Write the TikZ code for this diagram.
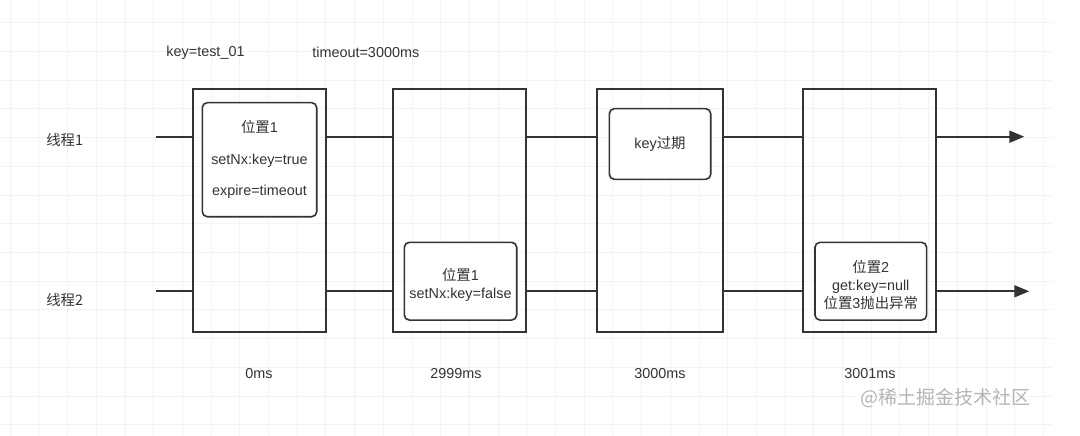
\documentclass[tikz,border=0pt]{standalone}
\usepackage{fontspec}
\setmainfont{Liberation Sans}
\newfontfamily\cjk{Noto Sans CJK SC}
\usetikzlibrary{arrows.meta}
\definecolor{ink}{HTML}{333333}
\definecolor{gridc}{HTML}{F3F3F3}
\definecolor{wm}{HTML}{B4B4B4}
\begin{document}
\begin{tikzpicture}[x=1pt,y=-1pt,
  every node/.style={text=ink,font=\fontsize{14.4}{17.5}\selectfont},
  bigbox/.style={draw=ink,line width=1.8pt,minimum height=243pt,inner sep=0pt},
  inbox/.style={draw=ink,fill=white,line width=1.6pt,rounded corners=5pt,align=center,inner sep=0pt},
  thread/.style={draw=ink,line width=1.8pt},
  tip/.style={-{Triangle[length=15pt,width=12pt]}}]
\useasboundingbox (0,0) rectangle (1080,436);
% faint grid
\foreach \k in {0,...,36} \draw[gridc,line width=0.6pt] ({10+\k*28.7},0) -- ({10+\k*28.7},436);
\foreach \k in {0,...,14} \draw[gridc,line width=0.6pt] (0,{22.7+\k*28.7}) -- (1052,{22.7+\k*28.7});
% header
\node (key) at (205.5,52.5) {key=test\_01};
\node (tmo) at (365.8,52.5) {timeout=3000ms};
% thread labels
\node (l1) at (64.7,140) {\cjk 线程1};
\node (l2) at (64.7,300) {\cjk 线程2};
% big boxes
\node[bigbox,minimum width=132.7pt] (b1) at (259.7,210.8) {};
\node[bigbox,minimum width=132.4pt] (b2) at (459.5,210.8) {};
\node[bigbox,minimum width=126pt] (b3) at (659.7,210.8) {};
\node[bigbox,minimum width=132.7pt] (b4) at (869.7,210.8) {};
% inner boxes
\node[inbox,minimum width=114.4pt,minimum height=114pt] (i1) at (259.5,159.7)
  {{\cjk 位置}1\\[14pt]setNx:key=true\\[14pt]expire=timeout};
\node[inbox,minimum width=112.4pt,minimum height=77.7pt] (i2) at (460.5,281.2)
  {\rule{0pt}{20pt}{\cjk 位置}1\\setNx:key=false};
\node[inbox,minimum width=101.4pt,minimum height=70.6pt] (i3) at (660,144)
  {key{\cjk 过期}};
\node[inbox,minimum width=111.7pt,minimum height=77.7pt] (i4) at (870.8,281.2)
  {\rule{0pt}{20pt}{\cjk 位置}2\\[0.5pt]get:key=null\\[0.5pt]{\cjk 位置}3{\cjk 抛出异常}};
% thread lines
\coordinate (s1) at (155.7,136.7);
\coordinate (e1) at (1024.3,136.7);
\coordinate (s2) at (155.7,291.3);
\coordinate (e2) at (1029.3,291.3);
\draw[thread] (s1) -- (b1.west |- s1);
\draw[thread] (b1.east |- s1) -- (b2.west |- s1);
\draw[thread] (b2.east |- s1) -- (b3.west |- s1);
\draw[thread] (b3.east |- s1) -- (b4.west |- s1);
\draw[thread,tip] (b4.east |- s1) -- (e1);
\draw[thread] (s2) -- (b1.west |- s2);
\draw[thread] (b1.east |- s2) -- (b2.west |- s2);
\draw[thread] (b2.east |- s2) -- (b3.west |- s2);
\draw[thread] (b3.east |- s2) -- (b4.west |- s2);
\draw[thread,tip] (b4.east |- s2) -- (e2);
% time labels
\node (t0) at (259,374) {0ms};
\node (t1) at (456,374) {2999ms};
\node (t2) at (660,374) {3000ms};
\node (t3) at (870,374) {3001ms};
% watermark
\node[text=wm,font=\fontsize{19}{22}\selectfont] (wmk) at (945.5,398) {{\cjk @稀土掘金技术社区}};
\end{tikzpicture}
\end{document}
